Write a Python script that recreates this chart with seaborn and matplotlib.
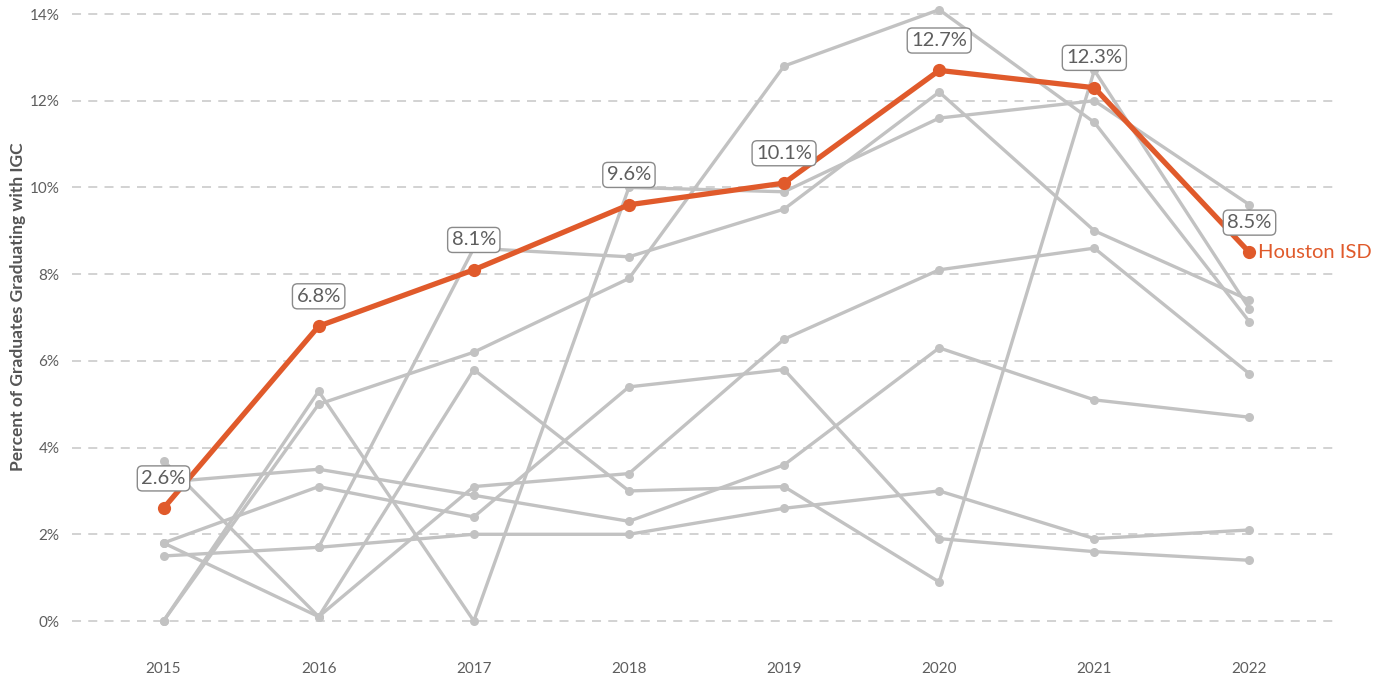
import numpy as np
import pandas as pd
import matplotlib
matplotlib.use("Agg")
import matplotlib.pyplot as plt
import seaborn as sns

years = [2015, 2016, 2017, 2018, 2019, 2020, 2021, 2022]
houston = [2.6, 6.8, 8.1, 9.6, 10.1, 12.7, 12.3, 8.5]

# peer districts (grey)
peer_a = [0.0, 5.0, 6.2, 7.9, 12.8, 14.1, 11.5, 6.9]
peer_b = [0.0, 5.3, 0.0, 10.0, 9.9, 11.6, 12.0, 9.6]
peer_c = [np.nan, 1.7, 8.6, 8.4, 9.5, 12.2, 9.0, 7.4]
peer_d = [3.7, 0.1, 3.1, 3.4, 6.5, 8.1, 8.6, 5.7]
peer_e = [1.8, 3.1, 2.4, 5.4, 5.8, 1.9, 1.6, 1.4]
peer_f = [3.2, 3.5, 2.9, 2.3, 3.6, 6.3, 5.1, 4.7]
peer_g = [1.8, 0.1, 5.8, 3.0, 3.1, 0.9, 12.7, 7.2]
peer_h = [1.5, 1.7, 2.0, 2.0, 2.6, 3.0, 1.9, 2.1]

peers = {"A": peer_a, "B": peer_b, "C": peer_c, "D": peer_d,
         "E": peer_e, "F": peer_f, "G": peer_g, "H": peer_h}

yticks = [0, 2, 4, 6, 8, 10, 12, 14]

ORANGE = "#E05A2B"
GREY = "#C2C2C2"
TEXT = "#5E5E5E"

sns.set_theme(style="white")
plt.rcParams["font.family"] = ["Lato", "DejaVu Sans"]

rows = []
for name, vals in peers.items():
    for yr, v in zip(years, vals):
        rows.append({"district": name, "year": yr, "value": v})
df_peers = pd.DataFrame(rows).dropna()
df_hou = pd.DataFrame({"year": years, "value": houston})

fig = plt.figure(figsize=(13.79, 6.77), dpi=100)
ax = fig.add_axes([0.0522, 0.0635, 0.918, 0.9286])

sns.lineplot(data=df_peers, x="year", y="value", units="district",
             estimator=None, color=GREY, linewidth=2.4, marker="o",
             markersize=6.5, markeredgewidth=0, ax=ax, zorder=2)
sns.lineplot(data=df_hou, x="year", y="value", color=ORANGE,
             linewidth=3.8, marker="o", markersize=9.5,
             markeredgewidth=0, ax=ax, zorder=4)

for yr, v in zip(years, houston):
    ax.annotate(f"{v:.1f}%", (yr, v), xytext=(0, 21.5),
                textcoords="offset points", ha="center", va="center",
                fontsize=14.5, color=TEXT, zorder=6,
                bbox=dict(boxstyle="round,pad=0.2,rounding_size=0.25",
                          fc="white", ec="#8a8a8a", lw=1))

ax.annotate("Houston ISD", (years[-1], houston[-1]), xytext=(6, 0),
            textcoords="offset points", ha="left", va="center",
            fontsize=14.5, color=ORANGE, zorder=6)

ax.set_xlim(2014.41, 2022.57)
ax.set_ylim(-0.3, 14.2)
ax.set_xticks(years)
ax.set_xticklabels([str(y) for y in years])
ax.set_yticks(yticks)
ax.set_yticklabels([f"{t}%" for t in yticks])
ax.tick_params(axis="x", length=0, pad=20, labelsize=11, labelcolor=TEXT)
ax.tick_params(axis="y", length=0, pad=9, labelsize=11, labelcolor=TEXT)

for t in yticks:
    ax.axhline(t, color="#CFCFCF", lw=1.3, ls=(0, (5, 4)), zorder=1)

for s in ax.spines.values():
    s.set_visible(False)

ax.set_xlabel("")
ax.set_ylabel("Percent of Graduates Graduating with IGC", fontsize=12.5,
              color="#555555", fontweight="bold")
ax.yaxis.set_label_coords(-0.036, 0.52)

fig.savefig("out.png", dpi=100)
